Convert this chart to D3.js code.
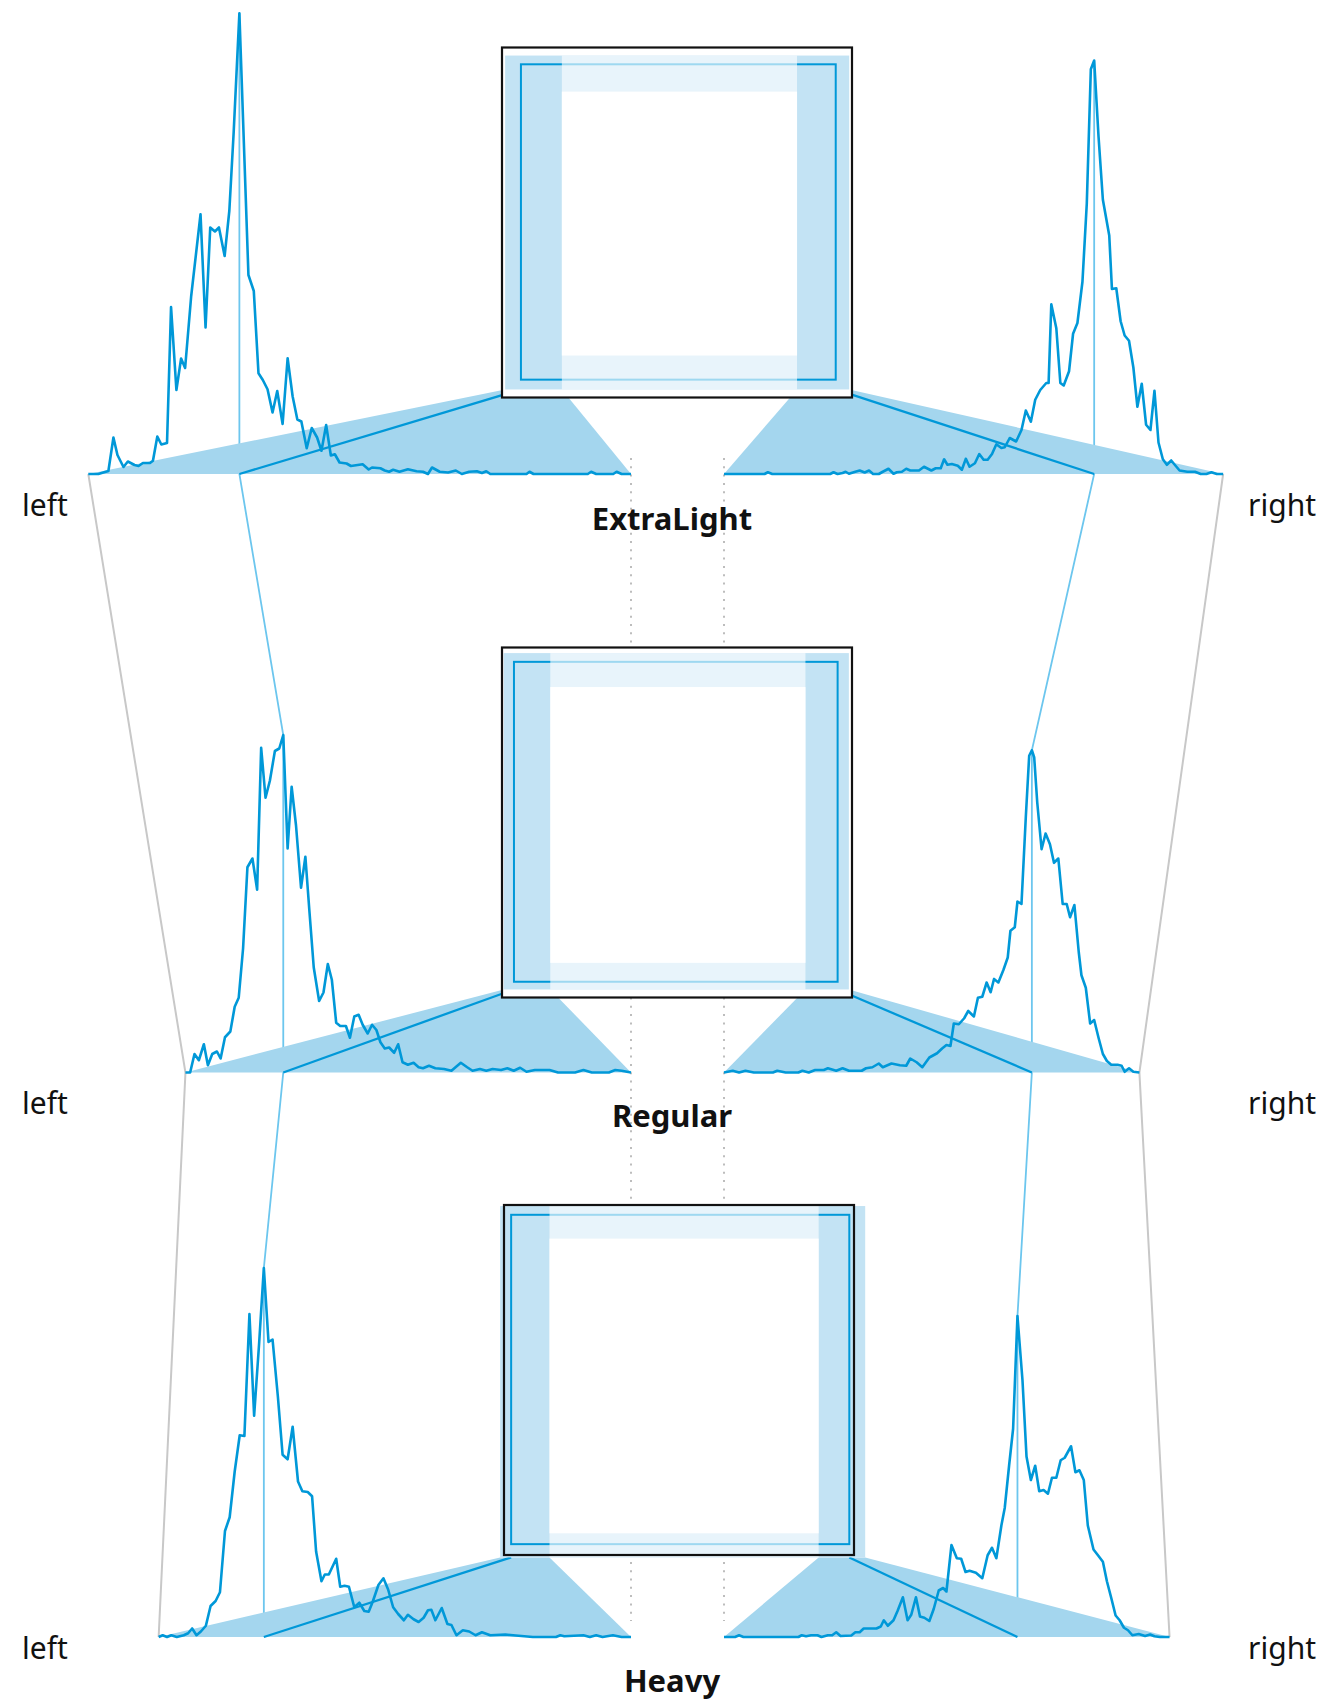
<!DOCTYPE html>
<html>
<head>
<meta charset="utf-8">
<script src="https://cdn.jsdelivr.net/npm/d3@7"></script>
<style>
  body { margin: 0; background: #fff; }
  svg { display: block; font-family: "Noto Sans", sans-serif; }
</style>
</head>
<body>
<div id="chart"></div>
<script>
//Font weights shown, top to bottom
const weights = ['ExtraLight', 'Regular', 'Heavy'];

//Side bearing extremes [min, max] in font units
const lsbRange = [[9, 171], [5, 138], [-11, 130]];
const rsbRange = [[8, 157], [9, 133], [-32, 101]];

//Vertical extremes, measured down from the top of the em box (0..1000)
const topRange = [[23, 126], [16, 113], [3, 96]];
const topMode = [48, 41, 28];
const bottomRange = [[880, 977], [901, 977], [938, 1007]];
const bottomMode = [949, 955, 969];

//Histograms of side bearings : [value, number of glyphs]
const lsbExtraLight = [[9,0],[12,0],[15,1.2],[16.5,14.6],[17.7,7.6],[19.5,2.8],[20.8,5],[22.8,3.6],[24,3.2],[25.3,4.4],[27.4,4.4],[28.3,5.3],[29.6,15],[30.8,11.8],[32.5,12.4],[33.7,66.8],[35.3,33.6],[36.7,46.2],[37.9,42.4],[39.7,71],[42.5,103.9],[44,58.6],[45.4,98.6],[46.8,97],[48,98.6],[49.7,87.2],[51.1,105.3],[52.4,136.8],[54.1,184.3],[56.8,79.6],[58.4,73.2],[59.8,40.3],[61.1,37.6],[62.5,33.9],[64,24.6],[65.4,33.2],[67,20],[68.5,46.3],[70,31],[71.4,21.8],[72.6,21],[74.2,10.3],[75.7,18.4],[77.3,14.6],[78.6,9.3],[80,19.6],[81.4,7.4],[82.6,7.9],[84,4.6],[86.1,4.2],[87.4,3.2],[90.9,3.9],[92.7,1.8],[93.7,2.6],[96.2,2.3],[97.5,1.4],[98.8,0.9],[100,1.7],[101.9,0.9],[104.4,1.9],[107,1.1],[108.9,0.9],[110.4,0],[111.6,2.6],[113.9,0.9],[116.4,0.6],[118.7,1.4],[120.5,0],[122.7,0.9],[125,1.1],[126.5,0.4],[127.8,1.1],[129,0],[139.8,0],[140.7,0.9],[141.9,0],[158.1,0],[159.1,0.9],[160.6,0],[165.7,0],[166.7,0.9],[168.2,0],[171,0]];
const rsbExtraLight = [[8,0],[9.9,0],[11.5,0.7],[13,0],[14.7,0],[16.4,0.9],[18.7,0.9],[21,1.4],[22.2,3.3],[23.5,5.4],[24.8,3.7],[26,5.9],[27.3,12.6],[28.5,33.3],[29.7,17.6],[31,19.7],[32.3,36.1],[33.6,26.9],[34.8,42.6],[36.1,53.3],[37.4,55.4],[38.6,61.1],[39.9,74.3],[41.2,74],[42,95.4],[43.9,109.7],[45.2,135],[46.5,165.4],[47.5,161.9],[48.7,108.3],[50,76.9],[51.5,60.4],[52.8,56.1],[54,41.1],[55.6,35.4],[56.6,36.4],[57.8,58.3],[59.3,67.9],[60.1,36.4],[60.8,36.4],[62.6,33.6],[64.1,29.7],[65.4,20.9],[66.9,25.4],[68.2,17.6],[69.8,13],[71.7,14.4],[73.2,10.7],[74.2,10.4],[75.7,11.9],[77,8],[78.3,5.7],[79.5,5.7],[80.8,8],[82.1,4.3],[83.7,2.9],[84.8,6.1],[86,1.7],[87.2,3.3],[89,4],[90.3,3.7],[91.3,5.9],[92.3,2.3],[93.8,2.3],[95.1,1.4],[97.3,2.9],[98.8,1.4],[101.4,1.4],[102.6,2.1],[103.9,0.9],[105.4,0.7],[106.4,0.1],[107.9,2.1],[109.6,0.9],[110.8,0],[112.5,0],[113.7,1.4],[115,0.6],[116.5,1.4],[117.8,0.9],[119.7,0.1],[120.7,0.9],[121.6,0.4],[123.1,0],[124.3,0.7],[125.3,0],[142.6,0],[143.9,0.7],[144.9,0],[157,0]];
const lsbRegular = [[5,0],[6.4,0],[7.7,7.4],[9,4.9],[10.5,11.3],[11.7,2.9],[13,7.4],[14.4,8.4],[15.5,5.6],[16.8,14.1],[18.4,16.4],[19.7,26.3],[20.9,29.9],[22.2,49.6],[23.5,82.1],[25,85.6],[26.4,73.1],[27.6,129.9],[28.9,109.9],[30.2,116.7],[31.7,128.6],[33,129.6],[34.2,135],[35.5,89.6],[36.7,114.3],[38,98.9],[39.5,73.9],[40.8,86.3],[42,64.6],[43.3,42],[44.9,28.6],[46.2,32],[47.5,43.4],[48.7,37.1],[50,19.9],[51.2,18.6],[52.9,18.6],[54.1,13.9],[55.4,22.4],[56.7,23.1],[57.9,19.1],[59.4,15.6],[60.7,19.1],[62,17],[63.2,12.1],[64.5,9.6],[65.8,10],[67.3,7.9],[68.5,11.3],[69.8,4.1],[71.4,3.1],[73.1,3.9],[74.6,2.1],[75.9,1.7],[77.7,2.7],[79.6,1.7],[82.2,1.4],[84.4,0.7],[87.2,3.9],[89.1,2.1],[90.7,0.7],[92.9,1.4],[94.8,0.7],[96.7,1.4],[99.2,1],[101.1,1.7],[103,0.7],[104.9,1.9],[106.8,0.3],[109.3,1],[111.8,1],[113.7,1],[116.2,0],[121.3,0],[123.8,1],[126.3,0],[131.4,0],[133.3,1],[135.2,0.7],[138,0]];
const rsbRegular = [[9,0],[10.8,0.3],[12.1,1.7],[13.4,0.3],[14.3,2.7],[15.5,3.1],[17.4,3.1],[18.7,4.6],[19.9,7.4],[21.2,13.9],[22.5,21],[23.7,19.6],[25,33.9],[26.3,38.9],[27.1,48.1],[28.4,67],[29.7,62.1],[30.7,67.4],[31.9,67.4],[33.2,85.6],[34.5,83.9],[35.7,91.3],[37,95.6],[38.2,89.3],[39.5,108.1],[40.4,126],[41.1,128.9],[41.9,126.7],[42.9,102.4],[44.2,67.4],[45.4,68.4],[46.2,58.1],[47.5,56.7],[48.3,46],[49.6,41],[51.1,36],[52.4,37.4],[53.4,32.1],[54.6,36],[55.9,30.3],[57.2,29.9],[58.4,22.4],[60.1,24.6],[61.3,21.7],[62.9,19.3],[64.4,19.6],[65.4,10.6],[66.6,11],[67.9,9.6],[69.4,7.7],[71.7,6],[73.8,2.1],[75.5,4.1],[77.4,5.6],[78.6,2.7],[80.5,2.9],[83,3.6],[85.6,2.1],[86.8,3.6],[88.7,2.1],[90.6,1.7],[91.9,0.7],[95.7,0.7],[97.6,1.7],[99.5,0.7],[102,1.7],[103.2,1],[105.8,1],[107.7,0],[109.6,0.7],[110.8,0],[114.6,0],[117.1,0.7],[118.4,0],[124.1,0],[126.6,0.7],[128.5,0],[130.4,0.7],[133,0]];
const lsbHeavy = [[-11,0],[-9.8,0.7],[-8.5,0],[-7.2,0.7],[-5.6,0],[-3.5,0.7],[-2.2,1.5],[-1,3.4],[0.3,0.7],[1.6,2.2],[3.1,4.5],[4.5,12.4],[6,14.4],[7.3,17.9],[8.8,42.4],[10.2,47.9],[11.7,66.2],[13.2,80.7],[14.6,80.4],[16.1,129.2],[17.5,88.5],[19,117.6],[20.4,147.6],[21.8,118],[23,119],[24.6,96],[26,72.9],[27.5,71.1],[29,84.1],[30.6,62.2],[31.9,58.3],[33.5,58],[34.8,56.3],[36,34.2],[37.6,22.3],[38.6,25],[39.8,25],[42,31.3],[43.2,20.1],[44.5,20.5],[45.8,20.1],[47.4,11.9],[48.9,13.7],[50.4,10.4],[51.7,10.1],[52.9,14.1],[54.6,20.8],[56.1,23.5],[57.5,19],[59,11.9],[60.5,9.2],[62.2,6.7],[63.4,8.9],[65.1,7.1],[66.6,6],[68.1,7.7],[69.4,10.7],[70.4,10.9],[71.6,6.7],[73.5,11.6],[75.2,5.2],[76.4,4.8],[77.9,0.7],[79.8,2.7],[81.7,2.2],[83.6,0.7],[85.5,1.9],[88,0.7],[92.5,1],[95.6,0.6],[100.7,0],[107.6,0],[108.9,0.7],[110.1,0.3],[115.8,0.7],[117.7,0],[119.6,0.7],[121.5,0],[124.6,0.7],[127.2,0],[130,0]];
const rsbHeavy = [[-32,0],[-29.1,0],[-27.5,0.3],[-26.2,1],[-24.7,0.4],[-22.8,1.2],[-20.9,0.7],[-19.6,2.7],[-18.4,3.7],[-17.1,6.7],[-15.9,8.6],[-14.6,15.6],[-13.3,22.3],[-12.1,30.1],[-10.8,32.4],[-9.3,35],[-7.6,44.6],[-6.4,62.8],[-5.1,66.7],[-3.9,65.9],[-2.6,76.3],[-0.7,71.7],[0.5,70.7],[1.8,63.7],[3.1,63.7],[4.3,57.3],[5.6,58.8],[6.9,58.3],[8.1,68.5],[9.4,62.8],[10.7,72.2],[11.9,102.7],[13.4,128.4],[14.7,83.3],[15.9,68.5],[17.2,51.6],[18.2,44.6],[19.7,31.5],[21,35.7],[22.3,32.7],[23.9,23.5],[25.8,25.7],[27.7,26.5],[28.9,26],[30.2,31.3],[31.5,31.5],[33.1,36.8],[34.6,18.2],[35.6,19.6],[36.9,18.6],[38.4,11.2],[39.7,6.4],[41.2,7.7],[42.5,8.2],[43.7,15.9],[45.1,8.9],[46.2,6.7],[47.6,15.9],[49.2,10.4],[50.4,6.7],[52.1,4.5],[53.3,6.7],[54.2,4.2],[55.5,3.4],[59.3,3.4],[60.5,1.9],[61.8,1.9],[63,0.6],[66.2,0.4],[67.5,1.9],[68.7,0.7],[70,0.7],[71.9,0],[73.1,0.7],[75,0.7],[76.5,0.3],[77.8,0.7],[78.8,0],[95.2,0],[96.5,0.7],[97.7,0],[101,0]];

const lsbHist = [lsbExtraLight, lsbRegular, lsbHeavy];
const rsbHist = [rsbExtraLight, rsbRegular, rsbHeavy];

//Declaration of the size
const width = 1326,
	  height = 1703;

//Placement of the three panels
const layout = [
	{boxX: 502, boxY: 47.5, base: 474, labelY: 516, titleY: 530},
	{boxX: 502, boxY: 647.5, base: 1072.5, labelY: 1114, titleY: 1127},
	{boxX: 504, boxY: 1205, base: 1637, labelY: 1659, titleY: 1692}
];
const em = 350,          // px for 1000 units in the box
	  k = 3.35,          // px per unit in the histograms
	  leftEnd = 631,     // where the left histograms end
	  rightStart = 724;  // where the right histograms start

const blue = '#0098d8',
	  lightBlue = '#6cc6ee',
	  fillBlue = '#a4d6ee',
	  stripBlue = '#c3e3f4';

//Add the SVG
var svg = d3.select('#chart')
			.append('svg')
			.attr('width', width)
			.attr('height', height);

//Build the scales of every panel
var panels = weights.map(function (w, i) {
	var p = layout[i],
		lr = lsbRange[i],
		rr = rsbRange[i];
	var s = {
		p: p,
		bx: d3.scaleLinear().domain([0, 1000]).range([p.boxX, p.boxX + em]),
		by: d3.scaleLinear().domain([0, 1000]).range([p.boxY, p.boxY + em]),
		hl: d3.scaleLinear().domain(lr).range([leftEnd - (lr[1] - lr[0]) * k, leftEnd]),
		hr: d3.scaleLinear().domain([rr[1], rr[0]]).range([rightStart, rightStart + (rr[1] - rr[0]) * k]),
		yc: d3.scaleLinear().domain([0, 100]).range([p.base, p.base - 250])
	};
	s.modeL = d3.greatest(lsbHist[i], function (d) { return d[1]; });
	s.modeR = d3.greatest(rsbHist[i], function (d) { return d[1]; });
	return s;
});

//Dotted guides between the histograms
var gDots = svg.append('g');
[leftEnd, rightStart].forEach(function (x) {
	gDots.append('line')
		 .attr('x1', x).attr('x2', x)
		 .attr('y1', layout[0].base - 16)
		 .attr('y2', layout[2].base - 16)
		 .attr('stroke', '#bdbdbd')
		 .attr('stroke-width', 2)
		 .attr('stroke-dasharray', '2,6.3');
});

//Lines joining the panels
var line = d3.line();
var gConn = svg.append('g').attr('fill', 'none');

gConn.append('path')
	 .attr('d', line(panels.map(function (s, i) { return [s.hl(lsbRange[i][0]), s.p.base]; })))
	 .attr('stroke', '#c8c8c8')
	 .attr('stroke-width', 2);
gConn.append('path')
	 .attr('d', line(panels.map(function (s, i) { return [s.hr(rsbRange[i][0]), s.p.base]; })))
	 .attr('stroke', '#c8c8c8')
	 .attr('stroke-width', 2);

var modeL = [], modeR = [];
panels.forEach(function (s) {
	modeL.push([s.hl(s.modeL[0]), s.yc(s.modeL[1])], [s.hl(s.modeL[0]), s.p.base]);
	modeR.push([s.hr(s.modeR[0]), s.yc(s.modeR[1])], [s.hr(s.modeR[0]), s.p.base]);
});
[modeL, modeR].forEach(function (pts) {
	gConn.append('path')
		 .attr('d', line(pts))
		 .attr('stroke', lightBlue)
		 .attr('stroke-width', 1.8);
});

//Draw every panel
panels.forEach(function (s, i) {
	var g = svg.append('g').attr('class', 'panel'),
		bx = s.bx, by = s.by, p = s.p,
		lr = lsbRange[i], rr = rsbRange[i],
		sb = by(bottomRange[i][1]);

	//trapezoids from the box to the histograms
	g.append('path')
	 .attr('d', line([[bx(lr[0]), sb], [bx(lr[1]), sb], [s.hl(lr[1]), p.base], [s.hl(lr[0]), p.base]]) + 'Z')
	 .attr('fill', fillBlue);
	g.append('path')
	 .attr('d', line([[bx(1000 - rr[1]), sb], [bx(1000 - rr[0]), sb], [s.hr(rr[0]), p.base], [s.hr(rr[1]), p.base]]) + 'Z')
	 .attr('fill', fillBlue);

	//histograms
	g.append('path')
	 .datum(lsbHist[i])
	 .attr('d', d3.line().x(function (d) { return s.hl(d[0]); }).y(function (d) { return s.yc(d[1]); }))
	 .attr('fill', 'none')
	 .attr('stroke', blue)
	 .attr('stroke-width', 2.6)
	 .attr('stroke-linejoin', 'round');
	g.append('path')
	 .datum(rsbHist[i])
	 .attr('d', d3.line().x(function (d) { return s.hr(d[0]); }).y(function (d) { return s.yc(d[1]); }))
	 .attr('fill', 'none')
	 .attr('stroke', blue)
	 .attr('stroke-width', 2.6)
	 .attr('stroke-linejoin', 'round');

	//mode in the box to mode in the histogram
	g.append('line')
	 .attr('x1', bx(s.modeL[0])).attr('y1', sb)
	 .attr('x2', s.hl(s.modeL[0])).attr('y2', p.base)
	 .attr('stroke', blue).attr('stroke-width', 2.3);
	g.append('line')
	 .attr('x1', bx(1000 - s.modeR[0])).attr('y1', sb)
	 .attr('x2', s.hr(s.modeR[0])).attr('y2', p.base)
	 .attr('stroke', blue).attr('stroke-width', 2.3);

	//the em box
	g.append('rect')
	 .attr('x', bx(0)).attr('y', by(0))
	 .attr('width', em).attr('height', em)
	 .attr('fill', '#fff');

	var x0 = bx(lr[0]), x1 = bx(1000 - rr[0]),
		y0 = by(topRange[i][0]), y1 = sb,
		mx0 = bx(lr[1]), mx1 = bx(1000 - rr[1]);

	g.append('rect')
	 .attr('x', x0).attr('y', y0)
	 .attr('width', x1 - x0).attr('height', y1 - y0)
	 .attr('fill', stripBlue);

	//most common side bearings
	var ix0 = bx(s.modeL[0]), ix1 = bx(1000 - s.modeR[0]),
		iy0 = by(topMode[i]), iy1 = by(bottomMode[i]);
	g.append('rect')
	 .attr('x', ix0).attr('y', iy0)
	 .attr('width', ix1 - ix0).attr('height', iy1 - iy0)
	 .attr('fill', 'none')
	 .attr('stroke', blue)
	 .attr('stroke-width', 2);

	g.append('rect')
	 .attr('x', mx0).attr('y', y0)
	 .attr('width', mx1 - mx0).attr('height', y1 - y0)
	 .attr('fill', '#fff')
	 .attr('fill-opacity', 0.62);
	g.append('rect')
	 .attr('x', mx0).attr('y', by(topRange[i][1]))
	 .attr('width', mx1 - mx0).attr('height', by(bottomRange[i][0]) - by(topRange[i][1]))
	 .attr('fill', '#fff');

	g.append('rect')
	 .attr('x', bx(0)).attr('y', by(0))
	 .attr('width', em).attr('height', em)
	 .attr('fill', 'none')
	 .attr('stroke', '#111')
	 .attr('stroke-width', 2.2);

	//labels
	g.append('text')
	 .text('left')
	 .attr('x', 22).attr('y', p.labelY)
	 .style('font-size', '30px')
	 .attr('fill', '#111');
	g.append('text')
	 .text('right')
	 .attr('x', 1316).attr('y', p.labelY)
	 .style('text-anchor', 'end')
	 .style('font-size', '30px')
	 .attr('fill', '#111');
	g.append('text')
	 .text(weights[i])
	 .attr('x', 672).attr('y', p.titleY)
	 .style('text-anchor', 'middle')
	 .style('font-size', '31px')
	 .style('font-weight', 'bold')
	 .attr('fill', '#111');
});
</script>
</body>
</html>
